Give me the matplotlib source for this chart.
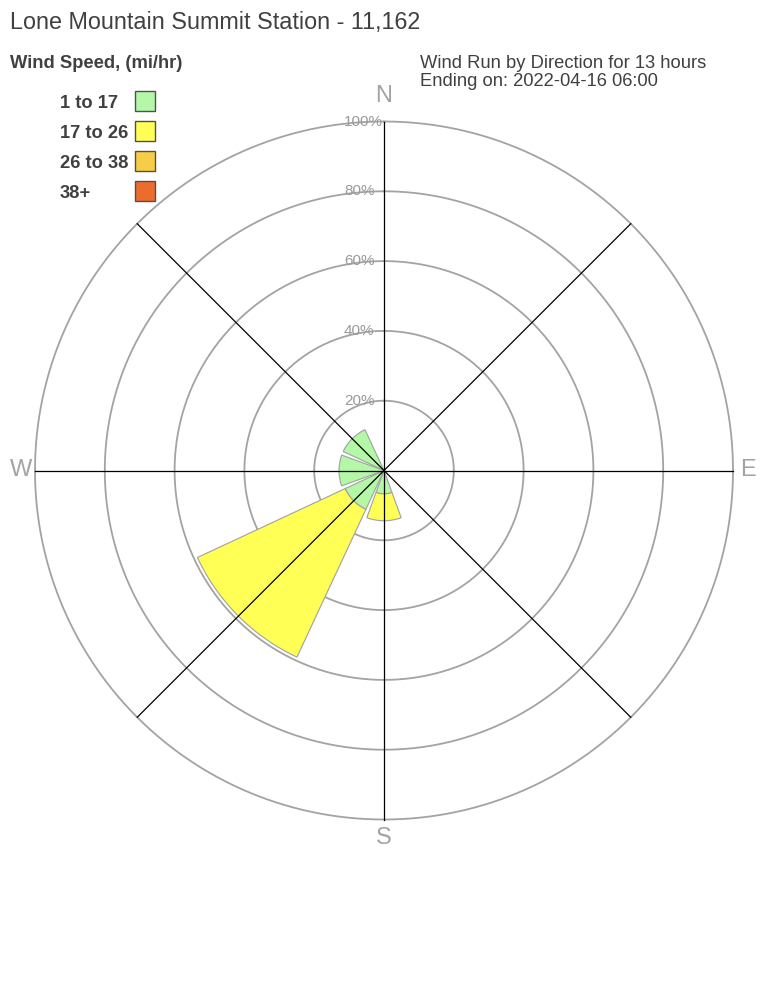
import numpy as np
import matplotlib
matplotlib.use("Agg")
import matplotlib.pyplot as plt
from matplotlib.transforms import offset_copy
from matplotlib.patches import Rectangle

plt.rcParams['font.family'] = ['Liberation Sans', 'DejaVu Sans']

# ---- data ----
directions = ['N', 'NE', 'E', 'SE', 'S', 'SW', 'W', 'NW']
dir_angles = [0, 45, 90, 135, 180, 225, 270, 315]
speed_bins = ['1 to 17', '17 to 26', '26 to 38', '38+']
pct_1_17 = [0, 0, 0, 0, 6.7, 12.3, 12.9, 12.9]
pct_17_26 = [0, 0, 0, 0, 7.7, 46.7, 0, 0]
pct_26_38 = [0, 0, 0, 0, 0, 0, 0, 0]
pct_38_up = [0, 0, 0, 0, 0, 0, 0, 0]
ring_values = [20, 40, 60, 80, 100]
ring_labels = ['20%', '40%', '60%', '80%', '100%']
compass = ['N', 'E', 'S', 'W']
compass_angles = [0, 90, 180, 270]

colors = ['#b3f7a7', '#ffff55', '#f7cd47', '#ec6c2c']
series = [pct_1_17, pct_17_26, pct_26_38, pct_38_up]

W, H, DPI = 768, 1008, 100
fig = plt.figure(figsize=(W / DPI, H / DPI), dpi=DPI)

cx, cy, R = 384, 470.5, 349
ax = fig.add_axes([(cx - R) / W, (H - cy - R) / H, 2 * R / W, 2 * R / H],
                  projection='polar')
ax.set_theta_zero_location('N')
ax.set_theta_direction(-1)
ax.set_ylim(0, 100)
ax.grid(False)
ax.set_xticks([])
ax.set_yticks([])
ax.spines['polar'].set_visible(False)
ax.patch.set_alpha(0)

gray = '#a3a3a3'
tt = np.linspace(0, 2 * np.pi, 721)
for r in ring_values:
    ax.plot(tt, np.full_like(tt, r), color=gray, lw=1.3, zorder=1, clip_on=False)

theta = np.deg2rad(dir_angles)
width = np.deg2rad(40)
bottom = np.zeros(len(directions))
for vals, col in zip(series, colors):
    vals = np.array(vals, dtype=float)
    mask = vals > 0
    if mask.any():
        ax.bar(theta[mask], vals[mask], width=width, bottom=bottom[mask],
               color=col, edgecolor='#a0a0a0', linewidth=0.8, zorder=2)
    bottom += vals

for a in dir_angles:
    ax.plot([np.deg2rad(a), np.deg2rad(a)], [0, 100], color='black', lw=0.9,
            zorder=3, clip_on=False)

lab_tr = offset_copy(ax.transData, fig=fig, x=-40, y=0, units='dots')
for r, lab in zip(ring_values, ring_labels):
    ax.text(0, r, lab, transform=lab_tr, ha='left', va='center',
            fontsize=11, color='#9a9a9a', zorder=4)

offsets = {'N': (0, 25.5), 'E': (15, 0), 'S': (0, -18), 'W': (-13.5, 0)}
for c, a in zip(compass, compass_angles):
    dx, dy = offsets[c]
    tr = offset_copy(ax.transData, fig=fig, x=dx, y=dy, units='dots')
    ax.text(np.deg2rad(a), 100, c, transform=tr, ha='center', va='center',
            fontsize=17, color=gray, zorder=4)

dark = '#404040'
def fx(x):
    return x / W
def fy(y):
    return 1 - y / H

fig.text(fx(10), fy(22.5), 'Lone Mountain Summit Station - 11,162', ha='left', va='center',
         fontsize=16.8, color=dark)
fig.text(fx(10), fy(64), 'Wind Speed, (mi/hr)', ha='left', va='center',
         fontsize=13.2, color=dark, fontweight='bold')
fig.text(fx(420), fy(64), 'Wind Run by Direction for 13 hours', ha='left', va='center',
         fontsize=13.2, color=dark)
fig.text(fx(420), fy(82), 'Ending on: 2022-04-16 06:00', ha='left', va='center',
         fontsize=13.2, color=dark)

for i, (lab, col) in enumerate(zip(speed_bins, colors)):
    yc = 101 + 30 * i
    fig.text(fx(60), fy(yc + 2.5), lab, ha='left', va='center', fontsize=13.2,
             color=dark, fontweight='bold')
    fig.patches.append(Rectangle((fx(135), fy(yc + 10)), 20 / W, 20 / H,
                                 transform=fig.transFigure, facecolor=col,
                                 edgecolor='#505050', linewidth=1.0))

fig.savefig('out.png', dpi=DPI)
